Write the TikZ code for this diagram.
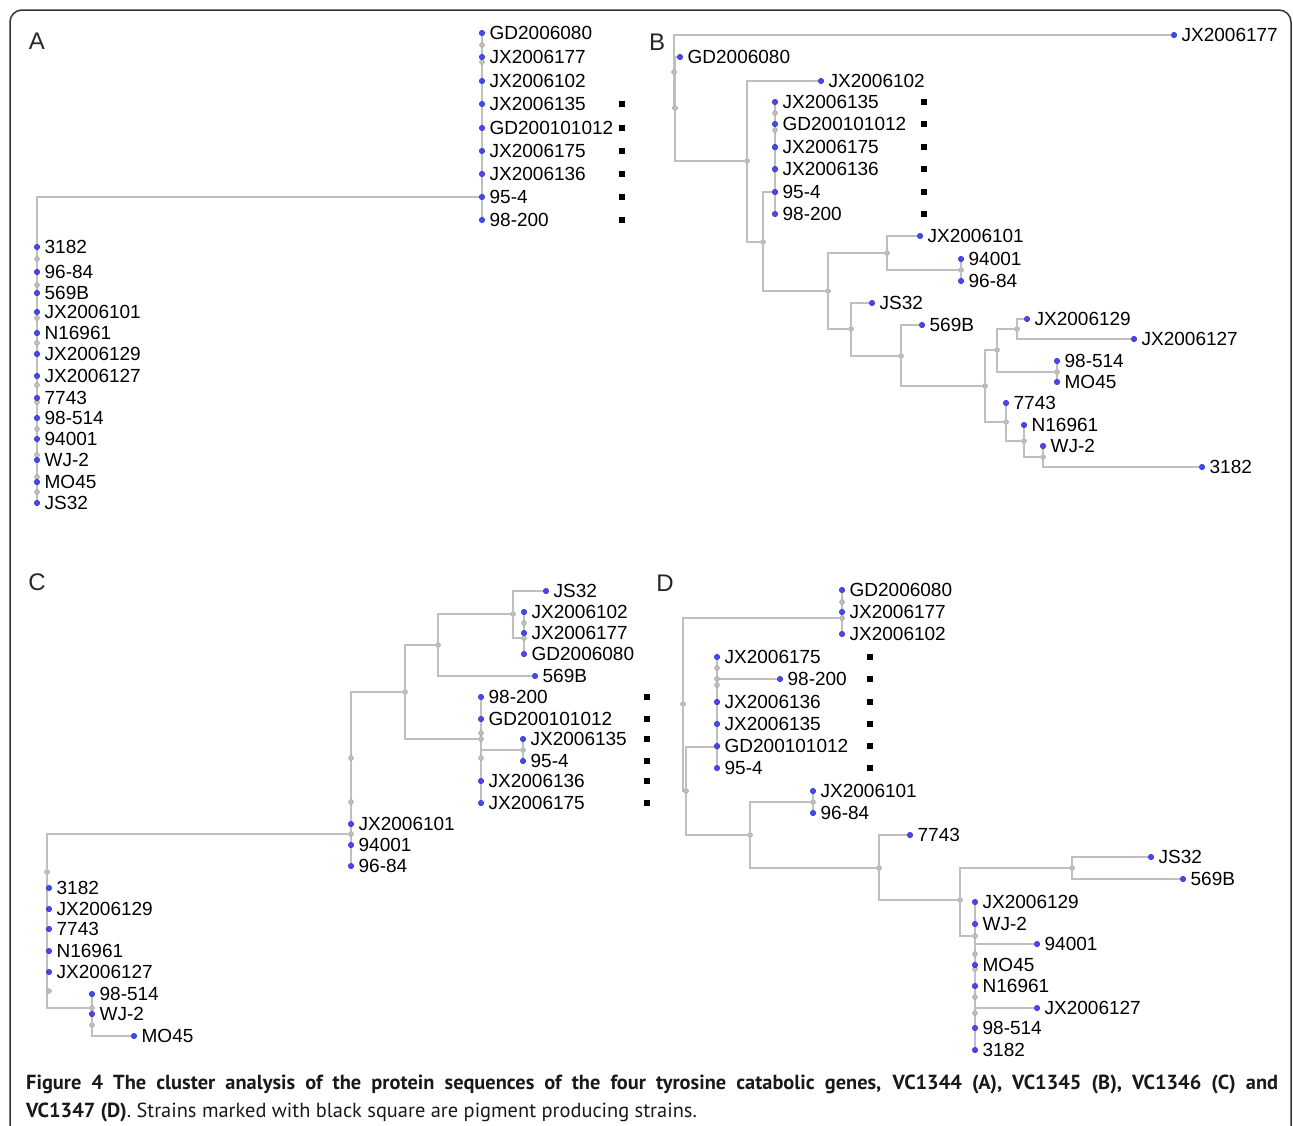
\documentclass[tikz,border=0pt]{standalone}
\usepackage{fontspec}
\setmainfont{Liberation Sans}
\newfontfamily\capfont{PT Sans}
\usetikzlibrary{backgrounds}
\tikzset{
  leaf/.style   = {circle, inner sep=0pt, minimum size=5.5pt, line width=0.4pt,
                   fill={rgb,255:red,70;green,70;blue,250},
                   draw={rgb,255:red,40;green,40;blue,170}},
  inode/.style  = {circle, inner sep=0pt, minimum size=5pt, line width=0.4pt,
                   fill=gray!50, draw=gray!75},
  lab/.style    = {font=\fontsize{19}{22}\selectfont, inner sep=0pt,
                   text height=13.6pt, text depth=0pt, xshift=4.5pt},
  pig/.style    = {fill=black, inner sep=0pt, minimum size=6.5pt},
  br/.style     = {draw=gray!50, line width=1.1pt},
  panel/.style  = {font=\fontsize{24}{28}\selectfont, inner sep=0pt, black!85},
  capline/.style= {font=\capfont\fontsize{20.4}{24}\selectfont, inner sep=0pt,
                   black!90, anchor=base west},
  frame/.style  = {draw=black!80, line width=1.5pt, rounded corners=12pt}
}

\begin{document}
\begin{tikzpicture}[x=1pt,y=-1pt]
  \useasboundingbox (0,0) rectangle (1293,1125);
  \clip (0,0) rectangle (1293,1125);
  \draw[frame] (10,10) rectangle (1291,1170);

  % panel A
  \node[panel] (pA) at (37,41) {A};
  \foreach \p/\x/\y in {aT/482/197, aB/37/259, a1/482/45, a2/482/62,
      a3/37/285, a4/37/318, a5/37/343, a6/37/385, a7/37/402, a8/37/429,
      a9/37/455, a10/37/477, a11/37/492}
    \node[inode] (\p) at (\x,\y) {};
  \foreach \i/\x/\y/\txt in {1/482/33/GD2006080, 2/482/57/JX2006177,
      3/482/81/JX2006102, 4/482/104/JX2006135, 5/482/128/GD200101012,
      6/482/151/JX2006175, 7/482/174/JX2006136, 8/482/197/95-4,
      9/482/220/98-200, 10/37/247/3182, 11/37/272/96-84, 12/37/293/569B,
      13/37/312/JX2006101, 14/37/333/N16961, 15/37/354/JX2006129,
      16/37/376/JX2006127, 17/37/398/7743, 18/37/418/98-514,
      19/37/439/94001, 20/37/460/WJ-2, 21/37/482/MO45, 22/37/503/JS32}
    \node[leaf, label={[lab]right:\txt}] (A\i) at (\x,\y) {};
  \foreach \y [count=\k] in {104,128,151,174,197,220}
    \node[pig] (Aq\k) at (622,\y) {};

  % panel B
  \node[panel] (pB) at (657,42) {B};
  \foreach \p/\x/\y in {bR/674/72, b1/675/108, b2/747/161, b3/763/242,
      b4/775/192, b5/828/291, b6/887/253, b7/851/329, b8/961/270,
      b9/901/356, b10/985/386, b11/997/350, b12/1006/422, b13/1017/329,
      b14/1057/372, b15/1024/441, b16/1043/457,
      bx1/775/113, bx2/775/130, bx3/775/148, bx4/775/170}
    \node[inode] (\p) at (\x,\y) {};
  \foreach \i/\x/\y/\txt in {1/1174/35/JX2006177, 2/680/57/GD2006080,
      3/821/81/JX2006102, 4/775/102/JX2006135, 5/775/124/GD200101012,
      6/775/147/JX2006175, 7/775/169/JX2006136, 8/775/192/95-4,
      9/775/214/98-200, 10/920/236/JX2006101, 11/961/259/94001,
      12/961/281/96-84, 13/872/303/JS32, 14/922/325/569B,
      15/1027/319/JX2006129, 16/1134/339/JX2006127, 17/1057/361/98-514,
      18/1057/382/MO45, 19/1006/403/7743, 20/1024/425/N16961,
      21/1043/446/WJ-2, 22/1202/467/3182}
    \node[leaf, label={[lab]right:\txt}] (B\i) at (\x,\y) {};
  \foreach \y [count=\k] in {102,124,147,169,192,214}
    \node[pig] (Bq\k) at (924,\y) {};

  % panel C
  \node[panel] (pC) at (37,582) {C};
  \foreach \p/\x/\y in {c1/513/614, c2/524/638, c3/438/645, c4/405/692,
      c5/481/739, c6/523/750, c8/351/834, cR/47/872, c10/92/1008,
      c11/92/1025, cx1/524/623, cx2/481/733, cx3/481/758, cx4/351/758,
      cx5/351/802, cx6/49/991}
    \node[inode] (\p) at (\x,\y) {};
  \foreach \i/\x/\y/\txt in {1/546/591/JS32, 2/524/612/JX2006102,
      3/524/633/JX2006177, 4/524/654/GD2006080, 5/535/676/569B,
      6/481/697/98-200, 7/481/719/GD200101012, 8/523/739/JX2006135,
      9/523/761/95-4, 10/481/781/JX2006136, 11/481/803/JX2006175,
      12/351/824/JX2006101, 13/351/845/94001, 14/351/866/96-84,
      15/49/888/3182, 16/49/909/JX2006129, 17/49/929/7743,
      18/49/951/N16961, 19/49/972/JX2006127, 20/92/994/98-514,
      21/92/1014/WJ-2, 22/134/1036/MO45}
    \node[leaf, label={[lab]right:\txt}] (C\i) at (\x,\y) {};
  \foreach \y [count=\k] in {697,719,739,761,781,803}
    \node[pig] (Cq\k) at (647,\y) {};

  % panel D
  \node[panel] (pD) at (665,583) {D};
  \foreach \p/\x/\y in {d1/842/618, dR/683/704, d2/686/791, d3/717/747,
      d5/717/679, d4/750/835, d6/813/802, d7/879/868, d8/960/900,
      d9/1072/868, d10/975/936, d11/975/1013, dx1/842/602, dx2/717/668,
      dx3/717/685, dx4/975/954, dx5/975/969, dx6/975/997}
    \node[inode] (\p) at (\x,\y) {};
  \foreach \i/\x/\y/\txt in {1/842/590/GD2006080, 2/842/612/JX2006177,
      3/842/634/JX2006102, 4/717/657/JX2006175, 5/780/679/98-200,
      6/717/702/JX2006136, 7/717/724/JX2006135, 8/717/746/GD200101012,
      9/717/768/95-4, 10/813/791/JX2006101, 11/813/813/96-84,
      12/910/835/7743, 13/1151/857/JS32, 14/1183/879/569B,
      15/975/902/JX2006129, 16/975/924/WJ-2, 17/1037/944/94001,
      18/975/965/MO45, 19/975/986/N16961, 20/1037/1008/JX2006127,
      21/975/1028/98-514, 22/975/1050/3182}
    \node[leaf, label={[lab]right:\txt}] (D\i) at (\x,\y) {};
  \foreach \y [count=\k] in {657,679,702,724,746,768}
    \node[pig] (Dq\k) at (870,\y) {};

  % branches
  \begin{scope}[on background layer]
    \draw[br] (A1) -- (A9) (aT) -| (aB) (A10) -- (A22);
    \draw[br] (bR) |- (B1) (bR) |- (b1) (b1) |- (B2) (b1) |- (b2)
      (b2) |- (B3) (b2) |- (b3) (b3) |- (b4) (b3) |- (b5) (B4) -- (B9)
      (b5) |- (b6) (b5) |- (b7) (b6) |- (B10) (b6) |- (b8)
      (b8) |- (B11) (b8) |- (B12) (b7) |- (B13) (b7) |- (b9)
      (b9) |- (B14) (b9) |- (b10) (b10) |- (b11) (b10) |- (b12)
      (b11) |- (b13) (b11) |- (b14) (b13) |- (B15) (b13) |- (B16)
      (b14) |- (B17) (b14) |- (B18) (b12) |- (B19) (b12) |- (b15)
      (b15) |- (B20) (b15) |- (b16) (b16) |- (B21) (b16) |- (B22);
    \draw[br] (c1) |- (C1) (c1) |- (c2) (C2) -- (C4) (c3) |- (c1)
      (c3) |- (C5) (c4) |- (c3) (c4) |- (c5) (C6) -- (C11)
      (c5) |- (c6) (c6) |- (C8) (c6) |- (C9) (c8) |- (c4) (C12) -- (C14)
      (c8) -| (cR) (cR) |- (c10) (C20) -- (c11) (c11) |- (C22);
    \draw[br] (D1) -- (D3) (dR) |- (d1) (dR) |- (d2) (d2) |- (d3)
      (d2) |- (d4) (D4) -- (D9) (d5) |- (D5) (d4) |- (d6) (d4) |- (d7)
      (d6) |- (D10) (d6) |- (D11) (d7) |- (D12) (d7) |- (d8)
      (d8) |- (d9) (d8) |- (d10) (d9) |- (D13) (d9) |- (D14)
      (D15) -- (D22) (d10) |- (D17) (d11) |- (D20);
  \end{scope}

  % caption
  \node[capline] (cap1) at (26,1089) {\makebox[1252pt][s]{\bfseries Figure 4
    The cluster analysis of the protein sequences of the four tyrosine
    catabolic genes, VC1344 (A), VC1345 (B), VC1346 (C) and}};
  \node[capline] (cap2) at (26,1117) {\textbf{VC1347 (D)}. Strains marked
    with black square are pigment producing strains.};
\end{tikzpicture}
\end{document}
